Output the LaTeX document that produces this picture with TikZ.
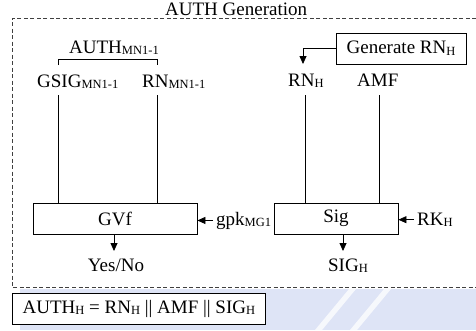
\documentclass[tikz,border=0pt]{standalone}
\usepackage{fontspec}
\setmainfont{Liberation Serif}
\usetikzlibrary{arrows.meta}
% lowered small text used for subscripts
\newcommand\sbs[1]{\raisebox{-1.8pt}{\fontsize{12.5}{12.5}\selectfont #1}}
\definecolor{wm}{RGB}{222,228,246}
\begin{document}
\begin{tikzpicture}[x=1pt,y=-1pt,
  font=\fontsize{19}{22}\selectfont,
  lbl/.style={inner sep=0pt, anchor=base west},
  blk/.style={draw, line width=0.8pt, inner sep=0pt, minimum height=31pt},
  wire/.style={line width=0.8pt},
  arr/.style={wire, -{Triangle[length=8pt,width=7pt]}},
  frame/.style={dash pattern=on 4pt off 2.5pt, line width=0.8pt, black!75}]
\useasboundingbox (0,0) rectangle (476,330);

% faint background band below the frame
\fill[wm] (20,289) rectangle (476,330);
\fill[white, opacity=0.75] (315,330) -- (322,330) -- (356,289) -- (349,289) -- cycle;
\fill[white, opacity=0.75] (350,330) -- (357,330) -- (391,289) -- (384,289) -- cycle;

% dashed frame (open on the right)
\coordinate (ftr) at (476,18);
\coordinate (ftl) at (12,18);
\coordinate (fbl) at (12,287);
\coordinate (fbr) at (476,287);
\draw[frame] (ftr) -- (ftl) -- (fbl) -- (fbr);

\node[lbl] (title) at (165,15) {AUTH Generation};

% left branch
\node[lbl] (auth1) at (69,53) {AUTH\sbs{MN1-1}};
\node[lbl] (gsig) at (37,87) {GSIG\sbs{MN1-1}};
\node[lbl] (rn1) at (142,87) {RN\sbs{MN1-1}};
\node[blk, minimum width=164pt] (gvf) at (115,218.5) {GVf};
\node[lbl] (gpk) at (216,225) {gpk\sbs{MG1}};
\node[lbl, anchor=base] (yes) at (116,271) {Yes/No};

\coordinate (b1) at (58,65);
\coordinate (b2) at (157,65);
\draw[wire] (b1) -- ++(0,-6) -| (b2);

\coordinate (p1) at (58,95);
\coordinate (p2) at (157,95);
\draw[wire] (p1) -- (p1 |- gvf.north);
\draw[wire] (p2) -- (p2 |- gvf.north);
\draw[arr] ([xshift=-3pt]gpk.west) -- (gpk.west -| gvf.east);
\coordinate (gout) at (114,251);
\draw[arr] (gvf.south -| gout) -- (gout);

% right branch
\node[blk, minimum width=130pt] (gen) at (401,48.5) {Generate RN\sbs{H}};
\node[lbl] (rnh) at (288,86) {RN\sbs{H}};
\node[lbl] (amf) at (357,86) {AMF};
\node[blk, minimum width=124pt] (sig) at (336,218.5) {Sig};
\node[lbl] (rk) at (417,225) {RK\sbs{H}};
\node[lbl, anchor=base] (sigh) at (348,271) {SIG\sbs{H}};

\coordinate (rtip) at (303,64);
\draw[arr] (gen.west) -| (rtip);

\coordinate (p3) at (305,95);
\coordinate (p4) at (379,95);
\draw[wire] (p3) -- (p3 |- sig.north);
\draw[wire] (p4) -- (p4 |- sig.north);
\draw[arr] ([xshift=-3pt]rk.west) -- (rk.west -| sig.east);
\coordinate (sout) at (343,251);
\draw[arr] (sig.south -| sout) -- (sout);

% result
\node[blk, anchor=west, minimum width=253pt, fill=white] (authh) at (12,308.5)
  {AUTH\sbs{H} = RN\sbs{H} || AMF || SIG\sbs{H}};
\end{tikzpicture}
\end{document}
